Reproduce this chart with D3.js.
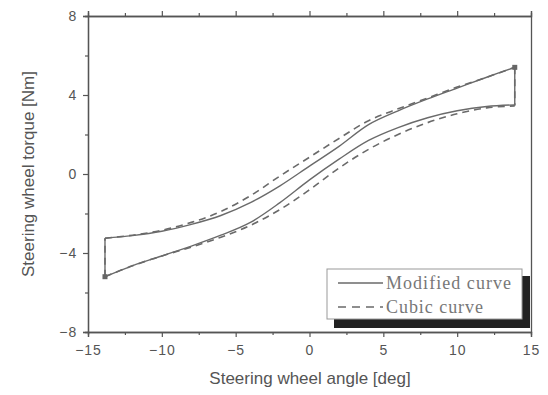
<!DOCTYPE html>
<html><head><meta charset="utf-8">
<script src="https://cdn.jsdelivr.net/npm/d3@7"></script>
<style>body{margin:0;background:#fff}svg{display:block}</style>
</head><body>
<svg id="c" width="548" height="395"></svg>
<script>
// ---- data ----
const xTicks = [-15, -10, -5, 0, 5, 10, 15];
const yTicks = [-8, -4, 0, 4, 8];
const xMinor = [-12.5, -7.5, -2.5, 2.5, 7.5, 12.5];
const yMinor = [-6, -2, 2, 6];
const angles = [-13.85, -12, -10, -8, -6, -4, -2, 0, 2, 4, 6, 8, 10, 12, 13.9];
const modifiedUpper = [-3.25, -3.12, -2.9, -2.55, -2.1, -1.45, -0.6, 0.4, 1.4, 2.5, 3.2, 3.8, 4.35, 4.9, 5.4];
const modifiedLower = [-5.2, -4.65, -4.15, -3.65, -3.1, -2.45, -1.45, -0.3, 0.75, 1.7, 2.35, 2.85, 3.2, 3.42, 3.5];
const cubicUpper = [-3.25, -3.1, -2.85, -2.45, -1.9, -1.1, -0.1, 0.85, 1.8, 2.7, 3.3, 3.85, 4.4, 4.9, 5.4];
const cubicLower = [-5.2, -4.65, -4.15, -3.7, -3.2, -2.6, -1.8, -0.8, 0.3, 1.25, 2.0, 2.6, 3.05, 3.35, 3.45];
const seriesNames = ["Modified curve", "Cubic curve"];

// ---- chart ----
const svg = d3.select("#c");
const L = 88, R = 531, T = 16, B = 332;
const x = d3.scaleLinear().domain([-15, 15]).range([L, R]);
const y = d3.scaleLinear().domain([-8, 8]).range([B, T]);
const axisCol = "#555", lineCol = "#6a6a6a", textCol = "#555";

const curve = d3.line().x(d => x(d[0])).y(d => y(d[1])).curve(d3.curveCatmullRom);
const straight = d3.line().x(d => x(d[0])).y(d => y(d[1]));

function drawLoop(up, low, dash, w) {
  const n = angles.length;
  const g = svg.append("g").attr("fill", "none").attr("stroke", lineCol)
    .attr("stroke-width", w).attr("stroke-dasharray", dash);
  g.append("path").attr("d", curve(angles.map((a, i) => [a, up[i]])));
  g.append("path").attr("d", curve(angles.map((a, i) => [a, low[i]])));
  g.append("path").attr("d", straight([[angles[0], low[0]], [angles[0], up[0]]]));
  g.append("path").attr("d", straight([[angles[n-1], up[n-1]], [angles[n-1], low[n-1]]]));
}
drawLoop(cubicUpper, cubicLower, "7,5", 1.6);
drawLoop(modifiedUpper, modifiedLower, null, 1.4);

// end markers
[[angles[0], modifiedLower[0]], [angles[angles.length-1], modifiedUpper[angles.length-1]]].forEach(p => {
  svg.append("rect").attr("x", x(p[0]) - 2.5).attr("y", y(p[1]) - 2.5)
    .attr("width", 5).attr("height", 5).attr("fill", "#666");
});

// axes
const font = "'Liberation Sans', Arial, sans-serif";
const gB = svg.append("g").attr("transform", `translate(0,${B})`)
  .call(d3.axisBottom(x).tickValues(xTicks).tickSize(5).tickFormat(d3.format("d")));
const gBm = svg.append("g").attr("transform", `translate(0,${B})`)
  .call(d3.axisBottom(x).tickValues(xMinor).tickSize(3).tickFormat(""));
const gT = svg.append("g").attr("transform", `translate(0,${T})`)
  .call(d3.axisTop(x).tickValues(xTicks).tickSize(5).tickFormat(""));
const gTm = svg.append("g").attr("transform", `translate(0,${T})`)
  .call(d3.axisTop(x).tickValues(xMinor).tickSize(3).tickFormat(""));
const gL = svg.append("g").attr("transform", `translate(${L},0)`)
  .call(d3.axisLeft(y).tickValues(yTicks).tickSize(5).tickFormat(d3.format("d")));
const gLm = svg.append("g").attr("transform", `translate(${L},0)`)
  .call(d3.axisLeft(y).tickValues(yMinor).tickSize(3).tickFormat(""));
const gR = svg.append("g").attr("transform", `translate(${R},0)`)
  .call(d3.axisRight(y).tickValues([]).tickSize(0).tickFormat(""));
[gB, gBm, gT, gTm, gL, gLm, gR].forEach(g => {
  g.selectAll("path").attr("stroke", axisCol).attr("stroke-width", 1.3);
  g.selectAll("line").attr("stroke", axisCol).attr("stroke-width", 1.2);
  g.selectAll("text").attr("fill", textCol).style("font-family", font)
    .style("font-size", "14px").style("letter-spacing", "1px");
});
gB.selectAll("text").attr("dy", "1.1em");
gL.selectAll("text").attr("dx", "-0.2em");

// axis titles
svg.append("text").attr("x", 310).attr("y", 384).attr("text-anchor", "middle")
  .attr("fill", textCol).style("font-family", font).style("font-size", "17px")
  .text("Steering wheel angle [deg]");
svg.append("text").attr("transform", "translate(34,174) rotate(-90)").attr("text-anchor", "middle")
  .attr("fill", textCol).style("font-family", font).style("font-size", "17px")
  .text("Steering wheel torque [Nm]");

// legend
const legendTextWidths = [125, 97];
const lg = svg.append("g");
lg.append("rect").attr("x", 334).attr("y", 276).attr("width", 196).attr("height", 52).attr("fill", "#222");
lg.append("rect").attr("x", 327).attr("y", 269).attr("width", 195).attr("height", 50)
  .attr("fill", "#fff").attr("stroke", "#999").attr("stroke-width", 1);
seriesNames.forEach((n, i) => {
  const yy = 283 + i * 24;
  lg.append("line").attr("x1", 338).attr("x2", 383).attr("y1", yy).attr("y2", yy)
    .attr("stroke", lineCol).attr("stroke-width", 1.5)
    .attr("stroke-dasharray", i === 1 ? "8,6" : null);
  const t = lg.append("text").attr("x", 386).attr("y", yy + 6).attr("fill", "#777")
    .style("font-family", "'Liberation Serif', 'Times New Roman', serif").style("font-size", "18px")
    .text(n);
  const nat = t.node().getComputedTextLength();
  const sp = Math.max(0, (legendTextWidths[i] - nat) / (n.length - 1));
  t.style("letter-spacing", sp.toFixed(2) + "px");
});
</script>
</body></html>
